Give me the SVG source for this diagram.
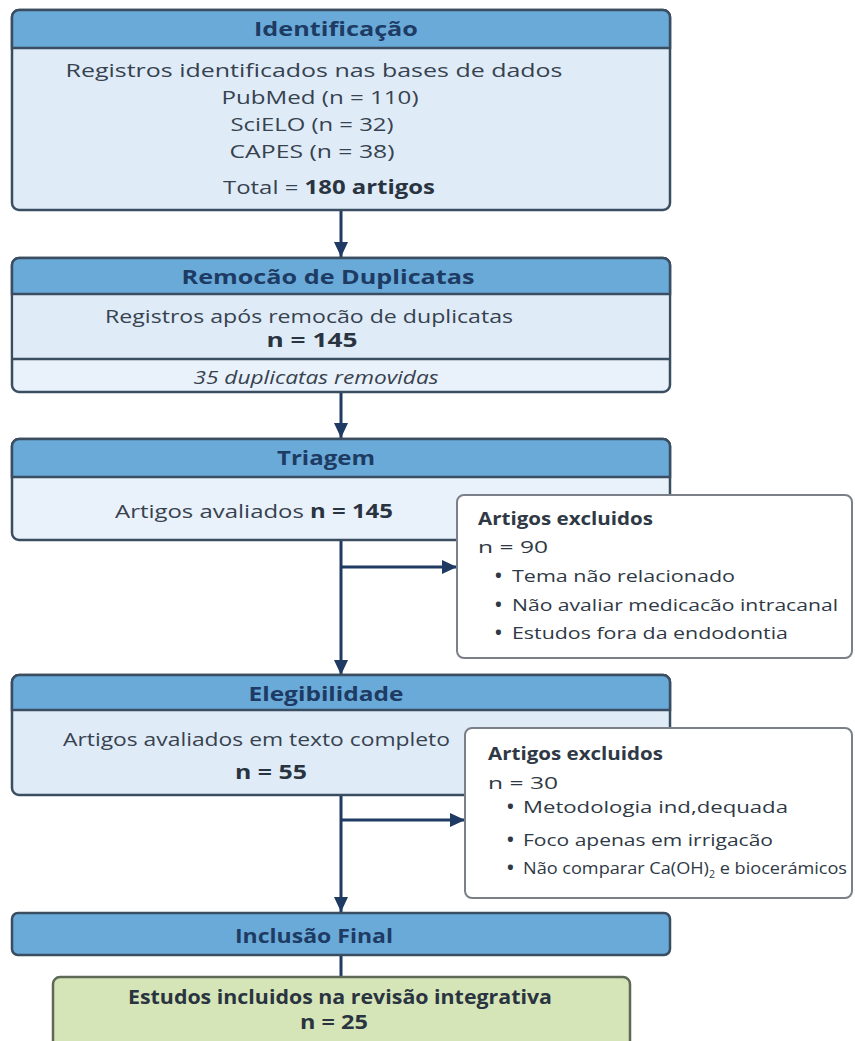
<svg xmlns="http://www.w3.org/2000/svg" width="855" height="1041" viewBox="0 0 855 1041">
<style>
.box{stroke:#3b4d60;stroke-width:2.5}
.hdr{fill:#6aaad9;stroke:#3b4d60;stroke-width:2.5}
.body{fill:#dfecf8}
.light{fill:#e9f1fa}
.excl{fill:#ffffff;stroke:#7b8088;stroke-width:2}
.green{fill:#d5e5b7;stroke:#5e6a55;stroke-width:2.5}
.title{font-family:"Open Sans","Noto Sans",sans-serif;font-weight:700;font-size:19px;fill:#1d3b63}
.t{font-family:"Open Sans","Noto Sans",sans-serif;font-size:19px;fill:#37424f}
.b{font-weight:700;fill:#2a3440}
.it{font-style:italic}
.et{font-family:"Open Sans","Noto Sans",sans-serif;font-size:17px;fill:#2f3945}
.eb{font-weight:700}
.bul{font-family:"Open Sans","Noto Sans",sans-serif;font-size:18px;font-weight:700;fill:#2f3945}
.conn{stroke:#1f3a63;stroke-width:3;fill:none}
</style>
<defs>
<marker id="ah" markerUnits="userSpaceOnUse" markerWidth="16" markerHeight="14" refX="15" refY="7" orient="auto">
<path d="M0,0 L15,7 L0,14 Z" fill="#1f3a63"/>
</marker>
</defs>

<g id="connectors">
<line class="conn" x1="341" y1="211" x2="341" y2="257" marker-end="url(#ah)"/>
<line class="conn" x1="341" y1="393" x2="341" y2="438" marker-end="url(#ah)"/>
<line class="conn" x1="341" y1="541" x2="341" y2="675" marker-end="url(#ah)"/>
<line class="conn" x1="341" y1="567" x2="457" y2="567" marker-end="url(#ah)"/>
<line class="conn" x1="341" y1="796" x2="341" y2="912" marker-end="url(#ah)"/>
<line class="conn" x1="341" y1="820" x2="465" y2="820" marker-end="url(#ah)"/>
<line class="conn" x1="341" y1="955" x2="341" y2="977"/>
</g>

<g id="identificacao">
<rect x="12" y="10" width="658" height="200" rx="7" class="box body"/>
<path d="M12,48 V17 a7,7 0 0 1 7,-7 H663 a7,7 0 0 1 7,7 V48 Z" class="hdr"/>
<text class="title" x="336" y="36" text-anchor="middle" textLength="164" lengthAdjust="spacingAndGlyphs">Identificação</text>
<text class="t" x="314" y="77" text-anchor="middle" textLength="497" lengthAdjust="spacingAndGlyphs">Registros identificados nas bases de dados</text>
<text class="t" x="320" y="104" text-anchor="middle" textLength="197" lengthAdjust="spacingAndGlyphs">PubMed (n = 110)</text>
<text class="t" x="312" y="131" text-anchor="middle" textLength="163" lengthAdjust="spacingAndGlyphs">SciELO (n = 32)</text>
<text class="t" x="312" y="158" text-anchor="middle" textLength="165" lengthAdjust="spacingAndGlyphs">CAPES (n = 38)</text>
<text class="t" x="329" y="194" text-anchor="middle" textLength="212" lengthAdjust="spacingAndGlyphs">Total = <tspan class="b">180 artigos</tspan></text>
</g>

<g id="remocao">
<rect x="12" y="258" width="658" height="134" rx="7" class="box light"/>
<rect x="13.5" y="294" width="655" height="65" class="body"/>
<path d="M12,294 V265 a7,7 0 0 1 7,-7 H663 a7,7 0 0 1 7,7 V294 Z" class="hdr"/>
<line x1="12" y1="359" x2="670" y2="359" stroke="#3b4d60" stroke-width="2.5"/>
<text class="title" x="328" y="284" text-anchor="middle" textLength="293" lengthAdjust="spacingAndGlyphs">Remocão de Duplicatas</text>
<text class="t" x="309" y="323" text-anchor="middle" textLength="408" lengthAdjust="spacingAndGlyphs">Registros após remocão de duplicatas</text>
<text class="t b" x="312" y="347" text-anchor="middle" textLength="91" lengthAdjust="spacingAndGlyphs">n = 145</text>
<text class="t it" x="316" y="384" text-anchor="middle" font-size="18" textLength="245" lengthAdjust="spacingAndGlyphs">35 duplicatas removidas</text>
</g>

<g id="triagem">
<rect x="12" y="439" width="658" height="101" rx="7" class="box light"/>
<path d="M12,477 V446 a7,7 0 0 1 7,-7 H663 a7,7 0 0 1 7,7 V477 Z" class="hdr"/>
<text class="title" x="326" y="465" text-anchor="middle" textLength="98" lengthAdjust="spacingAndGlyphs">Triagem</text>
<text class="t" x="115" y="518" textLength="278" lengthAdjust="spacingAndGlyphs">Artigos avaliados <tspan class="b">n = 145</tspan></text>
</g>

<g id="excluidos1">
<rect x="457" y="495" width="395" height="163" rx="7" class="excl"/>
<text class="et eb" x="478" y="525" textLength="175" lengthAdjust="spacingAndGlyphs">Artigos excluidos</text>
<text class="et" x="478" y="553" font-size="18" textLength="70" lengthAdjust="spacingAndGlyphs">n = 90</text>
<text class="bul" x="495" y="582">•</text>
<text class="et" x="512" y="582" textLength="223" lengthAdjust="spacingAndGlyphs">Tema não relacionado</text>
<text class="bul" x="495" y="611">•</text>
<text class="et" x="512" y="611" textLength="326" lengthAdjust="spacingAndGlyphs">Não avaliar medicacão intracanal</text>
<text class="bul" x="495" y="639">•</text>
<text class="et" x="512" y="639" textLength="276" lengthAdjust="spacingAndGlyphs">Estudos fora da endodontia</text>
</g>

<g id="elegibilidade">
<rect x="12" y="675" width="658" height="120" rx="7" class="box body"/>
<path d="M12,710 V682 a7,7 0 0 1 7,-7 H663 a7,7 0 0 1 7,7 V710 Z" class="hdr"/>
<text class="title" x="326" y="701" text-anchor="middle" textLength="155" lengthAdjust="spacingAndGlyphs">Elegibilidade</text>
<text class="t" x="63" y="746" textLength="387" lengthAdjust="spacingAndGlyphs">Artigos avaliados em texto completo</text>
<text class="t b" x="271" y="779" text-anchor="middle" textLength="72" lengthAdjust="spacingAndGlyphs">n = 55</text>
</g>

<g id="excluidos2">
<rect x="465" y="728" width="387" height="170" rx="7" class="excl"/>
<text class="et eb" x="488" y="760" textLength="175" lengthAdjust="spacingAndGlyphs">Artigos excluidos</text>
<text class="et" x="488" y="789" font-size="18" textLength="70" lengthAdjust="spacingAndGlyphs">n = 30</text>
<text class="bul" x="507" y="813">•</text>
<text class="et" x="523" y="813" textLength="265" lengthAdjust="spacingAndGlyphs">Metodologia ind,dequada</text>
<text class="bul" x="507" y="846">•</text>
<text class="et" x="523" y="846" textLength="250" lengthAdjust="spacingAndGlyphs">Foco apenas em irrigacão</text>
<text class="bul" x="507" y="874">•</text>
<text class="et" x="523" y="874" font-size="14" textLength="324" lengthAdjust="spacingAndGlyphs">Não comparar Ca(OH)<tspan font-size="10" dy="4">2</tspan><tspan dy="-4"> e biocerámicos</tspan></text>
</g>

<g id="inclusao">
<rect x="12" y="913" width="658" height="42" rx="6" class="hdr"/>
<text class="title" x="314" y="943" text-anchor="middle" textLength="158" lengthAdjust="spacingAndGlyphs">Inclusão Final</text>
</g>

<g id="estudos">
<rect x="53" y="977" width="577" height="80" rx="7" class="green"/>
<text class="t b" x="340" y="1004" text-anchor="middle" font-size="17" textLength="424" lengthAdjust="spacingAndGlyphs">Estudos incluidos na revisão integrativa</text>
<text class="t b" x="334" y="1029" text-anchor="middle" textLength="68" lengthAdjust="spacingAndGlyphs">n = 25</text>
</g>
</svg>
